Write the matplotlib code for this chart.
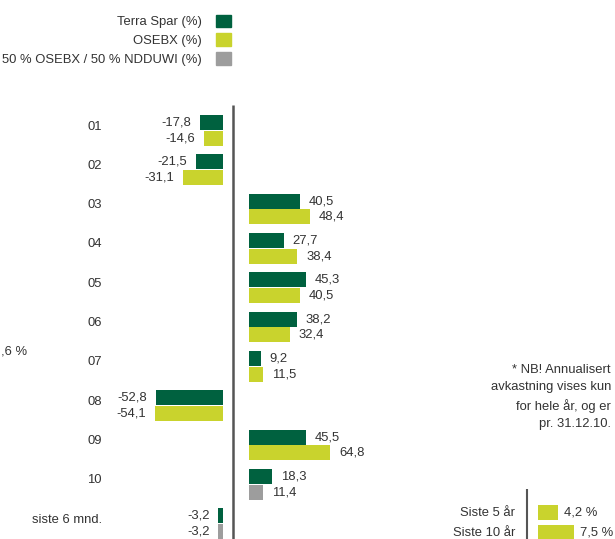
import matplotlib.pyplot as plt
import numpy as np
from matplotlib.patches import Patch

plt.rcParams["font.family"] = ["Liberation Sans", "DejaVu Sans"]

# data
categories = ["01", "02", "03", "04", "05", "06", "07", "08", "09", "10", "siste 6 mnd."]
terra_spar = [-17.8, -21.5, 40.5, 27.7, 45.3, 38.2, 9.2, -52.8, 45.5, 18.3, -3.2]
index_values = [-14.6, -31.1, 48.4, 38.4, 40.5, 32.4, 11.5, -54.1, 64.8, 11.4, -3.2]
index_series = ["OSEBX"] * 9 + ["50/50"] * 2

annual_labels = ["Siste 5 år", "Siste 10 år"]
annual_values = [4.2, 7.5]

legend_labels = ["Terra Spar (%)", "OSEBX (%)", "50 % OSEBX / 50 % NDDUWI (%)"]
footnote = ["* NB! Annualisert", "avkastning vises kun", "for hele år, og er", "pr. 31.12.10."]

DARK = "#00613f"
LIME = "#c9d32d"
GREY = "#9d9d9d"
TEXT = "#333333"
series_colors = {"OSEBX": LIME, "50/50": GREY}

W, H = 615, 539
FS = 9.4


def fx(px):
    return px / W


def fy(py):
    return 1 - py / H


fig = plt.figure(figsize=(W / 100, H / 100), dpi=100)

# main chart, 1 unit = S pixels, zero line at pixel 233
S = 1.255
ROW = 39.3
ax = fig.add_axes([0, 0, 1, 1])
ax.axis("off")
ax.set_xlim(-233 / S, (W - 233) / S)
ax.set_ylim((H - 130.5) / ROW, -130.5 / ROW)

neg_end = -10.5 / S
pos_start = 16 / S
gap = 9 / S
off = 0.2
bh = 0.38

rows = np.arange(len(categories))
for vals, dy, colors in [
    (terra_spar, -off, [DARK] * len(rows)),
    (index_values, off, [series_colors[s] for s in index_series]),
]:
    vals = np.array(vals)
    left = np.where(vals < 0, neg_end, pos_start)
    ax.barh(rows + dy, vals, left=left, height=bh, color=colors)
    for r, v, l in zip(rows, vals, left):
        lab = f"{v:.1f}".replace(".", ",")
        if v < 0:
            ax.text(l + v - gap, r + dy, lab, ha="right", va="center", fontsize=FS, color=TEXT)
        else:
            ax.text(l + v + gap, r + dy, lab, ha="left", va="center", fontsize=FS, color=TEXT)

for r, c in zip(rows, categories):
    ax.text(-131 / S, r - 0.1, c, ha="right", va="center", fontsize=FS, color=TEXT)

ax.plot([0, 0], [(105 - 130.5) / ROW, (H - 130.5) / ROW], color="#555555", lw=1.8, solid_capstyle="butt")

# legend
handles = [Patch(color=c) for c in [DARK, LIME, GREY]]
fig.legend(handles, legend_labels, loc="upper right", bbox_to_anchor=(fx(238), fy(8)),
           frameon=False, markerfirst=False, fontsize=FS, borderpad=0, handlelength=1.15,
           handleheight=1.15, handletextpad=1.1, labelspacing=0.38, labelcolor=TEXT)

# cut-off text and footnote
fig.text(fx(1), fy(352), ",6 %", ha="left", va="center", fontsize=FS, color=TEXT)
fig.text(fx(611), fy(397), "\n".join(footnote), ha="right", va="center", fontsize=FS,
         color=TEXT, linespacing=1.55, multialignment="right")

# annualised inset
S2 = 4.85
ax2 = fig.add_axes([fx(527), 0, fx(W - 527), 54 / H])
ax2.axis("off")
ax2.set_xlim(0, (W - 527) / S2)
ax2.set_ylim(1.325, -1.375)
ax2.barh(np.arange(2), annual_values, left=11 / S2, height=0.75, color=LIME)
ax2.plot([0, 0], [-1.175, 1.325], color="#555555", lw=1.5, solid_capstyle="butt", clip_on=False)
for i, (lab, v) in enumerate(zip(annual_labels, annual_values)):
    ax2.text(-12 / S2, i, lab, ha="right", va="center", fontsize=FS, color=TEXT, clip_on=False)
    ax2.text(11 / S2 + v + 6 / S2, i, f"{v:.1f} %".replace(".", ","), ha="left", va="center",
             fontsize=FS, color=TEXT, clip_on=False)

fig.savefig("out.png", dpi=100)
